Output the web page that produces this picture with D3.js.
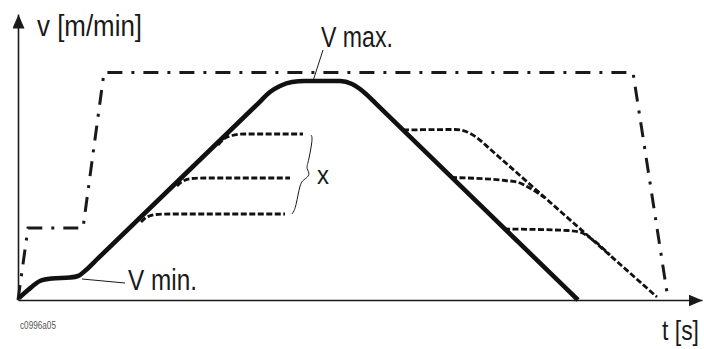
<!DOCTYPE html>
<html>
<head>
<meta charset="utf-8">
<script src="https://cdn.jsdelivr.net/npm/d3@7"></script>
<style>
  body { margin: 0; background: #fff; }
  svg { display: block; }
  text { font-family: "Liberation Sans", Arial, sans-serif; fill: #1a1a1a; }
</style>
</head>
<body>
<div id="chart"></div>
<script>
// velocity profile, [t, v] pairs in arbitrary units
var mainProfile = [[0.1,0.2],[1.0,1.0],[2.2,1.9],[3.4,2.15],[5.2,2.25],[6.0,2.4],[6.8,3.0],[8.0,4.16],
  [24.0,19.64],[25.2,20.8],[26.2,21.4],[27.4,21.8],[28.7,21.9],[32.2,21.9],[33.4,21.6],[34.2,21.1],[34.8,20.6],
  [36.0,19.43],[54.5,1.46],[56.0,0]];
var limitProfile = [[0,0],[1.0,7.2],[6.5,7.2],[8.6,22.75],[61.5,22.75],[65.0,0.1]];

var accelTop = [[20.0,15.5],[20.6,16.1],[21.4,16.45],[22.7,16.6],[28.5,16.6]];
var accelMid = [[15.9,11.4],[16.5,11.9],[17.4,12.15],[18.7,12.2],[27.2,12.2]];
var accelLow = [[12.3,7.8],[12.9,8.3],[13.8,8.55],[15.2,8.6],[26.7,8.6]];

var decelTop = [[38.5,17.0],[43.7,17.05],[44.8,16.85],[45.8,16.3],[47.2,15.1],[48.5,13.95],[62.5,1.54],[63.9,0.3]];
var decelMid = [[43.3,12.25],[48.7,11.95],[49.9,11.8],[51.0,11.3],[52.7,10.2]];
var decelLow = [[48.6,7.1],[55.0,6.95],[56.3,6.75],[57.5,6.0],[59.2,4.5]];

var braceX = [[29.3,16.5],[29.5,16.2],[29.0,13.6],[28.8,13.2],[29.3,12.5],[28.5,12.0],[28.2,11.6],[27.8,9.4],[27.6,8.9],[27.4,8.6]];
var leaderMin = [[6.4,2.1],[10.7,1.7]];
var leaderMax = [[29.5,21.9],[30.5,25.0]];

var axisLabels = { v: "v [m/min]", t: "t [s]" };

var W = 704, H = 349;
var svg = d3.select("#chart").append("svg")
  .attr("width", W)
  .attr("height", H);

var x = d3.scaleLinear().domain([0, 68.4]).range([18, 702]);
var y = d3.scaleLinear().domain([0, 28.6]).range([300, 14]);

var defs = svg.append("defs");
defs.append("marker")
  .attr("id", "arrow")
  .attr("viewBox", "0 0 14 12")
  .attr("refX", 14).attr("refY", 6)
  .attr("markerWidth", 14).attr("markerHeight", 12)
  .attr("markerUnits", "userSpaceOnUse")
  .attr("orient", "auto")
  .append("path")
  .attr("d", "M0,0L14,6L0,12Z")
  .attr("fill", "#1a1a1a");

// axes: no ticks, just the lines
svg.append("g")
  .attr("transform", "translate(0," + y(0) + ")")
  .call(d3.axisBottom(x).ticks(0).tickSizeOuter(0));
svg.append("g")
  .attr("transform", "translate(" + x(0) + ",0)")
  .call(d3.axisLeft(y).ticks(0).tickSizeOuter(0));
svg.selectAll(".domain")
  .attr("stroke", "#1a1a1a")
  .attr("stroke-width", 1.6)
  .attr("marker-end", "url(#arrow)");

var line = d3.line()
  .x(function(d) { return x(d[0]); })
  .y(function(d) { return y(d[1]); });

var smooth = d3.line()
  .x(function(d) { return x(d[0]); })
  .y(function(d) { return y(d[1]); })
  .curve(d3.curveMonotoneX);

var brace = d3.line()
  .x(function(d) { return x(d[0]); })
  .y(function(d) { return y(d[1]); })
  .curve(d3.curveBasis);

// limit (dash-dot)
svg.append("path")
  .attr("d", line(limitProfile))
  .attr("fill", "none")
  .attr("stroke", "#1a1a1a")
  .attr("stroke-width", 3)
  .attr("stroke-dasharray", "15,9,3,9");

// dashed branches
[accelTop, accelMid, accelLow, decelTop, decelMid, decelLow].forEach(function(b) {
  svg.append("path")
    .attr("d", smooth(b))
    .attr("fill", "none")
    .attr("stroke", "#111")
    .attr("stroke-width", 2.8)
    .attr("stroke-dasharray", "6,2.5");
});

// main profile
svg.append("path")
  .attr("d", smooth(mainProfile))
  .attr("fill", "none")
  .attr("stroke", "#111")
  .attr("stroke-width", 4.6)
  .attr("stroke-linejoin", "round");

// brace + leaders
svg.append("path")
  .attr("d", brace(braceX))
  .attr("fill", "none")
  .attr("stroke", "#1a1a1a")
  .attr("stroke-width", 1);

[leaderMin, leaderMax].forEach(function(l) {
  svg.append("path")
    .attr("d", line(l))
    .attr("fill", "none")
    .attr("stroke", "#1a1a1a")
    .attr("stroke-width", 1);
});

// labels, squeezed horizontally to the condensed widths of the original
function label(txt, px, py, size, width) {
  var t = svg.append("text")
    .attr("font-size", size)
    .text(txt);
  var k = width / t.node().getComputedTextLength();
  t.attr("transform", "translate(" + px + "," + py + ") scale(" + k + ",1)");
  return t;
}
label(axisLabels.v, 37, 36, 30, 105);
label(axisLabels.t, 662, 340, 28, 37);
label("V max.", 321, 47, 30, 72);
label("V min.", 128, 290, 30, 69);
label("x", 317, 184, 26, 12);
label("c0996a05", 20, 329, 10, 36).style("fill", "#555");
</script>
</body>
</html>
